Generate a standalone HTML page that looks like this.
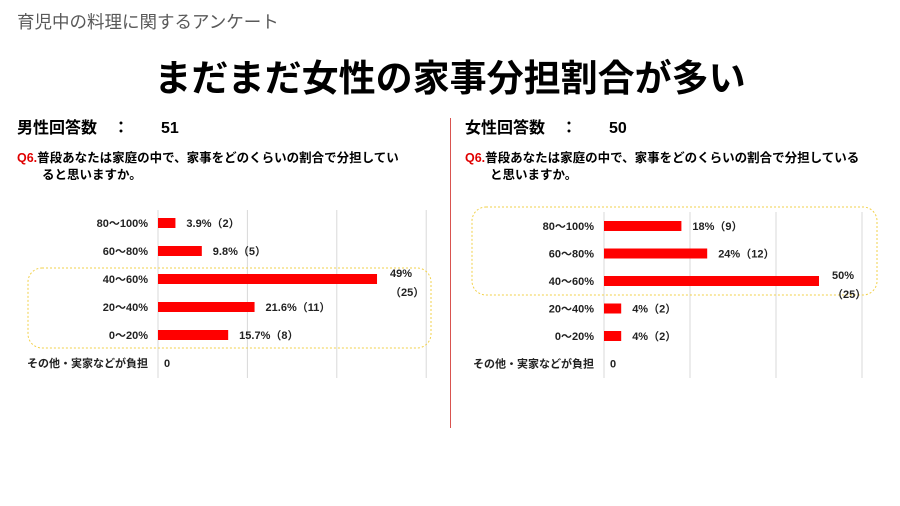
<!DOCTYPE html>
<html><head><meta charset="utf-8">
<style>
body{margin:0;width:900px;height:506px;background:#fff;position:relative;overflow:hidden;font-family:"Liberation Sans","Noto Sans CJK JP",sans-serif;color:#000}
.a{position:absolute;white-space:nowrap}
.sub{left:17px;top:9px;font-size:17.5px;color:#595959}
.title{left:0;width:900px;text-align:center;top:48px;font-size:37px;font-weight:bold}
.cnt{font-size:16px;font-weight:bold;top:114px}
.q{font-size:12.5px;font-weight:bold;line-height:17px;top:150px}
.q b{color:#e00000}
svg text{font-family:"Liberation Sans","Noto Sans CJK JP",sans-serif;font-size:11px;font-weight:bold}
</style></head><body>
<div class="a sub">育児中の料理に関するアンケート</div>
<div class="a title">まだまだ女性の家事分担割合が多い</div>
<div class="a cnt" style="left:17px">男性回答数　：　　51</div>
<div class="a cnt" style="left:465px">女性回答数　：　　50</div>
<div class="a q" style="left:17px"><b>Q6.</b>普段あなたは家庭の中で、家事をどのくらいの割合で分担してい<br>　　ると思いますか。</div>
<div class="a q" style="left:465px"><b>Q6.</b>普段あなたは家庭の中で、家事をどのくらいの割合で分担している<br>　　と思いますか。</div>
<div class="a" style="left:450px;top:118px;width:1px;height:310px;background:#d9534f"></div>
<svg id="chart" class="a" style="left:0;top:0" width="900" height="506"></svg>
<script>
const categories=["80～100%","60～80%","40～60%","20～40%","0～20%","その他・実家などが負担"];
const maleValues=[3.9,9.8,49,21.6,15.7,0];
const maleCounts=[2,5,25,11,8,0];
const femaleValues=[18,24,50,4,4,0];
const femaleCounts=[9,12,25,2,2,0];
const maleLabels=["3.9%（2）","9.8%（5）","49%|（25）","21.6%（11）","15.7%（8）","0"];
const femaleLabels=["18%（9）","24%（12）","50%|（25）","4%（2）","4%（2）","0"];
const ticks=[0,20,40,60];
const NS="http://www.w3.org/2000/svg";
const svg=document.getElementById('chart');
function mk(t,a){const e=document.createElementNS(NS,t);for(const k in a)e.setAttribute(k,a[k]);svg.appendChild(e);return e;}
function chart(cfg,vals,labels,prefix){
  const x=v=>cfg.x0+v*cfg.px;
  const y=i=>cfg.y0+i*cfg.step;
  ticks.forEach(t=>{if(t===0)return;const l=mk('line',{x1:x(t),x2:x(t),y1:cfg.top,y2:cfg.bottom,stroke:'#d9d9d9'});
    
    });
  const ax=mk('line',{x1:cfg.x0,x2:cfg.x0,y1:cfg.top,y2:cfg.bottom,stroke:'#d9d9d9'});
  
  
  const hl=mk('rect',{x:cfg.hx,y:cfg.hy,width:cfg.hw,height:cfg.hh,rx:14,fill:'none',stroke:'#f2d14b','stroke-dasharray':'2,2'});
  
  
  categories.forEach((c,i)=>{
    const cat=mk('text',{x:cfg.x0-10,y:y(i)+4,'text-anchor':'end',fill:'#222'});cat.textContent=c;
    
    
    const v=vals[i];
    if(v>0){const b=mk('rect',{x:cfg.x0,y:y(i)-5,width:x(v)-cfg.x0,height:10,fill:'#ff0000'});
      
      }
    const parts=labels[i].split('|');
    if(parts.length>1){
      parts.forEach((p,j)=>{const t=mk('text',{x:x(v)+13,y:y(i)-2+j*19,fill:'#222'});t.textContent=p;
        
        });
    }else{
      const t=mk('text',{x:v>0?x(v)+11:cfg.x0+6,y:y(i)+4,fill:'#222'});t.textContent=parts[0];
      
      }
  });
}
chart({x0:158,px:4.47,y0:223,step:28,top:210,bottom:378,hx:28,hy:268,hw:403,hh:80},maleValues,maleLabels,'male');
chart({x0:604,px:4.3,y0:226,step:27.5,top:212,bottom:378,hx:472,hy:207,hw:405,hh:88},femaleValues,femaleLabels,'female');
</script>
</body></html>
